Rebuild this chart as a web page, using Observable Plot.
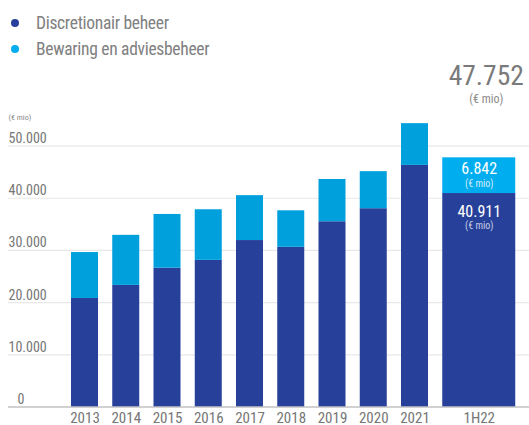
<!DOCTYPE html>
<html><head><meta charset="utf-8">
<script src="https://cdn.jsdelivr.net/npm/d3@7"></script>
<script src="https://cdn.jsdelivr.net/npm/@observablehq/plot@0.6"></script>
<style>
body{margin:0;background:#fff;}
#wrap{position:relative;width:529px;height:425px;font-family:"Liberation Sans Narrow","Roboto Condensed","Liberation Sans",sans-serif;}
#wrap svg{position:absolute;left:0;top:0;}
.item{position:absolute;left:36px;white-space:nowrap;font-size:17.5px;line-height:18px;letter-spacing:-0.3px;color:#808080;}
.dot{position:absolute;left:11px;width:8px;height:8px;border-radius:50%;}
</style></head>
<body>
<div id="wrap"></div>
<script>
const categories = ["2013","2014","2015","2016","2017","2018","2019","2020","2021","1H22"];
const seriesNames = ["Discretionair beheer","Bewaring en adviesbeheer"];
const discretionair = [20800, 23300, 26600, 28100, 31900, 30600, 35500, 38000, 46300, 40911];
const bewaring = [8800, 9600, 10300, 9700, 8600, 7000, 8100, 7100, 8000, 6842];
const yTicks = [0, 10000, 20000, 30000, 40000, 50000];
const headlineTotal = 47752;
const unitLabel = "(€ mio)";

const colors = {dark: "#27419a", light: "#00a0dd", lightHi: "#00aeef"};
const nl = d3.formatLocale({decimal: ",", thousands: ".", grouping: [3], currency: ["€", ""]});
const fmt = nl.format(",d");
const font = '"Liberation Sans Narrow","Roboto Condensed","Liberation Sans",sans-serif';
const textGrey = "#767676";

const rows = [];
categories.forEach((c, i) => {
  rows.push({cat: c, series: seriesNames[0], value: discretionair[i]});
  rows.push({cat: c, series: seriesNames[1], value: bewaring[i]});
});
const last = categories[categories.length - 1];
const yearRows = rows.filter(d => d.cat !== last);
const lastRows = rows.filter(d => d.cat === last);
const fillOf = d => d.series === seriesNames[0] ? colors.dark : (d.cat === last ? colors.lightHi : colors.light);
const wide = 23;

const chart = Plot.plot({
  width: 529, height: 425,
  marginLeft: 8, marginRight: 0, marginTop: 119.5, marginBottom: 18.5,
  x: {type: "band", domain: categories, range: [71, 469.25], paddingInner: 0.3455, paddingOuter: 0, round: false, axis: null},
  y: {domain: [0, 55000], axis: null},
  color: {type: "identity"},
  style: {fontFamily: font, background: "transparent", overflow: "visible"},
  marks: [
    Plot.ruleY(yTicks.slice(1), {stroke: "#e8e8e8", strokeWidth: 1.2}),
    Plot.barY(yearRows, {x: "cat", y: "value", fill: fillOf}),
    Plot.barY(lastRows, {x: "cat", y: "value", fill: fillOf, insetRight: -2 * wide}),
    Plot.ruleY([0], {stroke: "#a3a3a3", strokeWidth: 1.2}),
    Plot.text(yTicks.filter(d => d > 0), {y: d => d, text: d => fmt(d), frameAnchor: "left", textAnchor: "start", lineAnchor: "bottom", dy: -3, fontSize: 14, fill: textGrey}),
    Plot.text([0], {y: d => d, text: d => fmt(d), frameAnchor: "left", textAnchor: "start", lineAnchor: "bottom", dx: 9, dy: -3, fontSize: 14, fill: textGrey}),
    Plot.text([unitLabel], {text: d => d, frameAnchor: "top-left", textAnchor: "start", lineAnchor: "middle", dy: -2.5, fontSize: 8, fill: "#888"}),
    Plot.text(categories.slice(0, -1), {x: d => d, text: d => d, frameAnchor: "bottom", lineAnchor: "top", dy: 5, fontSize: 15, fill: textGrey}),
    Plot.text([last], {x: d => d, text: d => d, frameAnchor: "bottom", lineAnchor: "top", dx: wide, dy: 5, fontSize: 15, fill: textGrey}),
    // labels inside last bar
    Plot.text(lastRows, Plot.stackY2({x: "cat", y: "value", text: d => d.series === seriesNames[1] ? fmt(d.value) : "", dx: wide, dy: 11, lineAnchor: "middle", fontSize: 16, fill: "white"})),
    Plot.text(lastRows, Plot.stackY2({x: "cat", y: "value", text: d => d.series === seriesNames[1] ? unitLabel : "", dx: wide, dy: 26, lineAnchor: "middle", fontSize: 10, fill: "#d8ecfa"})),
    Plot.text(lastRows, Plot.stackY2({x: "cat", y: "value", text: d => d.series === seriesNames[0] ? fmt(d.value) : "", dx: wide, dy: 18, lineAnchor: "middle", fontSize: 16, fill: "white"})),
    Plot.text(lastRows, Plot.stackY2({x: "cat", y: "value", text: d => d.series === seriesNames[0] ? unitLabel : "", dx: wide, dy: 32, lineAnchor: "middle", fontSize: 10, fill: "#c9cfe6"})),
    // headline total
    Plot.text([headlineTotal], {x: () => last, y: d => d, text: d => fmt(d), dx: 30, dy: -81.5, lineAnchor: "middle", fontSize: 27.5, fill: "#7a7a7a"}),
    Plot.text([headlineTotal], {x: () => last, y: d => d, text: () => unitLabel, dx: 30, dy: -59, lineAnchor: "middle", fontSize: 12, fill: "#8a8a8a"})
  ]
});

const wrap = document.getElementById("wrap");
wrap.appendChild(chart);
const legendColors = [colors.dark, colors.lightHi];
const legendTops = [14, 40];
seriesNames.forEach((name, i) => {
  const dot = document.createElement("div");
  dot.className = "dot";
  dot.style.background = legendColors[i];
  dot.style.top = (legendTops[i] + 5) + "px";
  wrap.appendChild(dot);
  const t = document.createElement("div");
  t.className = "item";
  t.style.top = legendTops[i] + "px";
  t.textContent = name;
  wrap.appendChild(t);
});
</script>
</body></html>
